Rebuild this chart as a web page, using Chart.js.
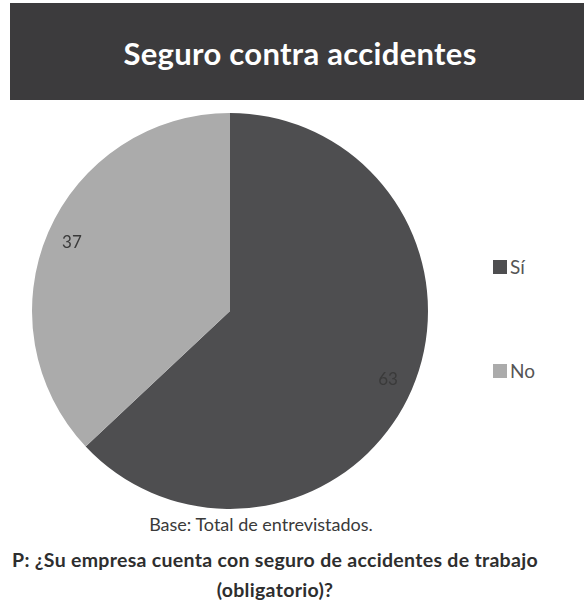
<!DOCTYPE html>
<html lang="es">
<head>
<meta charset="utf-8">
<title>Seguro contra accidentes</title>
<script src="https://cdn.jsdelivr.net/npm/chart.js@4.4.1/dist/chart.umd.min.js"></script>
<style>
  body { margin: 0; background: #fff; font-family: Lato, "Open Sans", sans-serif; }
  #page { position: relative; width: 584px; height: 602px; overflow: hidden; background: #fff; }
  #banner { position: absolute; left: 10px; top: 3px; width: 600px; height: 97px; background: #3c3b3d; }
  #banner h1 { position: absolute; left: -10px; width: 600px; top: 32px; margin: 0; text-align: center;
               color: #fff; font-size: 31px; font-weight: 700; line-height: 36px; letter-spacing: 0.3px; }
  #pieWrap { position: absolute; left: 30px; top: 111px; width: 400px; height: 400px; }
  .legend-item { position: absolute; left: 493px; display: flex; align-items: center; color: #555; font-size: 19px; }
  .legend-item span.box { display: inline-block; width: 14px; height: 14px; margin-right: 3px; }
  .note { position: absolute; text-align: center; color: #3a3a3a; white-space: nowrap; }
  #base { top: 513px; left: 0; width: 522px; font-size: 18px; }
  #question { top: 545px; left: 0; width: 550px; font-size: 19.5px; font-weight: 700; line-height: 30px;
              letter-spacing: 0.3px; color: #2e2e2e; }
</style>
</head>
<body>
<div id="page">
  <div id="banner"><h1>Seguro contra accidentes</h1></div>
  <div id="pieWrap"><canvas id="insurancePie" width="400" height="400"></canvas></div>
  <div id="legend"></div>
  <div class="note" id="base">Base: Total de entrevistados.</div>
  <div class="note" id="question">P: ¿Su empresa cuenta con seguro de accidentes de trabajo<br>(obligatorio)?</div>
</div>
<script>
// Respuestas (%)
const answers = ['Sí', 'No'];
const percents = [63, 37];
const sliceColors = ['#4e4e50', '#ababab'];
const legendTops = [255, 359];

// leyenda a la derecha del pastel
const legendEl = document.getElementById('legend');
answers.forEach((name, i) => {
    const item = document.createElement('div');
    item.className = 'legend-item';
    item.style.top = legendTops[i] + 'px';
    item.innerHTML = `<span class="box" style="background:${sliceColors[i]}"></span>${name}`;
    legendEl.appendChild(item);
});

// valor de cada porción, cerca del borde
const sliceLabels = {
    id: 'sliceLabels',
    afterDatasetsDraw(chart) {
        const ctx = chart.ctx;
        const meta = chart.getDatasetMeta(0);
        ctx.save();
        ctx.font = '17px Lato, sans-serif';
        ctx.fillStyle = '#3a3a3a';
        ctx.textAlign = 'center';
        ctx.textBaseline = 'middle';
        meta.data.forEach((arc, i) => {
            const p = arc.getProps(['x', 'y', 'startAngle', 'endAngle', 'outerRadius'], true);
            const mid = (p.startAngle + p.endAngle) / 2;
            const r = p.outerRadius * 0.87;
            ctx.fillText(String(percents[i]), p.x + Math.cos(mid) * r, p.y + Math.sin(mid) * r);
        });
        ctx.restore();
    }
};

new Chart(document.getElementById('insurancePie'), {
    type: 'pie',
    data: {
        labels: answers,
        datasets: [{ data: percents, backgroundColor: sliceColors, borderWidth: 0 }]
    },
    options: {
        responsive: false,
        animation: false,
        layout: { padding: 2 },
        plugins: { legend: { display: false }, tooltip: { enabled: false } }
    },
    plugins: [sliceLabels]
});
</script>
</body>
</html>
